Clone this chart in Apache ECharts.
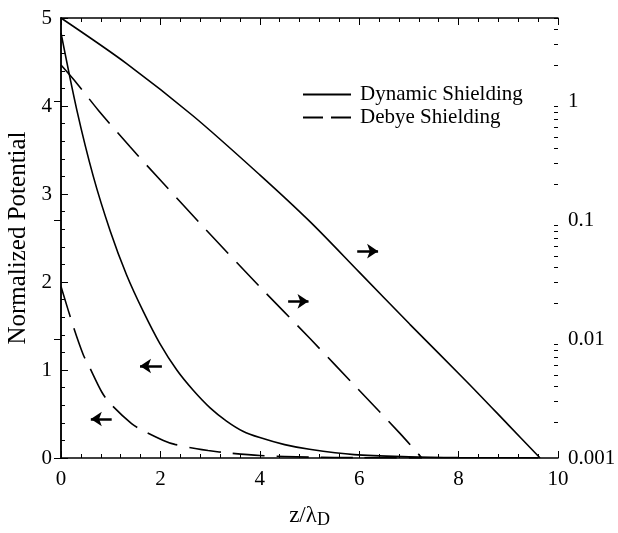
<!DOCTYPE html>
<html>
<head>
<meta charset="utf-8">
<script src="https://cdn.jsdelivr.net/npm/echarts@6/dist/echarts.min.js"></script>
<style>
  html, body { margin: 0; padding: 0; background: #fff; }
  #chart { width: 618px; height: 533px; }
</style>
</head>
<body>
<div id="chart"></div>
<script>
// values (x = z/lambda_D)
// left axis (linear)
var dynLinX = [0, 0.32, 0.65, 0.99, 1.32, 1.66, 1.99, 2.33, 2.66, 3.0, 3.33, 3.66, 4.0, 4.5, 5.0, 5.9, 7.0, 8.0, 9.6];
var dynLinY = [4.83, 3.95, 3.2, 2.58, 2.08, 1.66, 1.30, 1.0, 0.77, 0.57, 0.42, 0.305, 0.232, 0.152, 0.099, 0.038, 0.013, 0.004, 0.001];
var debLinX = [0, 0.25, 0.45, 0.55, 0.82, 0.99, 1.42, 1.62, 2.06, 2.29, 2.73, 2.96, 3.4, 4.0, 5.0, 6.0, 7.26];
var debLinY = [1.95, 1.49, 1.17, 1.06, 0.75, 0.62, 0.39, 0.32, 0.2, 0.155, 0.105, 0.085, 0.055, 0.028, 0.01, 0.004, 0.001];
// right axis (log)
var dynLogX = [0, 1.32, 2.66, 4.0, 5.01, 6.0, 7.02, 8.16, 9.0, 9.64];
var dynLogY = [5.0, 2.07, 0.75, 0.24, 0.097, 0.0365, 0.0133, 0.0044, 0.0019, 0.001];
var debLogX = [0, 0.32, 0.75, 1.39, 2.03, 2.86, 4.0, 5.01, 5.98, 6.82, 7.26];
var debLogY = [2.01, 1.41, 0.84, 0.413, 0.21, 0.088, 0.0275, 0.0101, 0.00378, 0.00161, 0.001];

var rightTicks = [0.001, 0.01, 0.1, 1];
// arrows: [tail x, tip x, y on left axis]
var arrows = [[5.96, 6.38, 2.35], [4.57, 4.98, 1.78], [2.03, 1.59, 1.045], [1.02, 0.60, 0.443]];

var serif = 'Liberation Serif';

function pairs(xs, ys) {
  return xs.map(function (x, i) { return [x, ys[i]]; });
}

// log minor ticks 2..9 per decade
var rightMinor = [];
rightTicks.forEach(function (d) {
  for (var k = 2; k <= 9; k++) {
    if (d * k <= 5) rightMinor.push(+(d * k).toPrecision(3));
  }
});

var myChart = echarts.init(document.getElementById('chart'));

var solid = { color: '#000', width: 1.6 };
var dashed = { color: '#000', width: 1.6, type: [32, 12] };

myChart.setOption({
  animation: false,
  grid: { left: 61, right: 60, top: 18, bottom: 75, outerBoundsMode: 'none' },
  legend: {
    orient: 'vertical',
    left: 297,
    top: 79,
    itemWidth: 48,
    itemHeight: 14,
    itemGap: 2,
    itemStyle: { opacity: 0 },
    data: [
      { name: 'Dynamic Shielding' },
      { name: 'Debye Shielding', lineStyle: { type: [20, 8] } }
    ],
    textStyle: { fontFamily: serif, fontSize: 21, color: '#000', padding: [0, 0, 0, 4] }
  },
  xAxis: [{
    type: 'value', min: 0, max: 10, interval: 2,
    name: 'z/λ{sub|D}', nameLocation: 'middle', nameGap: 44,
    nameTextStyle: {
      fontFamily: serif, fontSize: 23, color: '#000',
      rich: { sub: { fontFamily: serif, fontSize: 18, color: '#000', verticalAlign: 'bottom', padding: [9, 0, 0, 0] } }
    },
    axisLine: { lineStyle: { color: '#000', width: 1.5 } },
    axisTick: { inside: true, length: 7, lineStyle: { color: '#000' } },
    minorTick: { show: true, splitNumber: 5, length: 4, lineStyle: { color: '#000' } },
    axisLabel: { fontFamily: serif, fontSize: 21, color: '#000', margin: 11 },
    splitLine: { show: false }
  }, {
    type: 'value', min: 0, max: 10, interval: 2, position: 'top',
    axisLine: { lineStyle: { color: '#000', width: 1.5 } },
    axisTick: { inside: true, length: 7, lineStyle: { color: '#000' } },
    minorTick: { show: true, splitNumber: 5, length: 4, lineStyle: { color: '#000' } },
    axisLabel: { show: false },
    splitLine: { show: false }
  }],
  yAxis: [{
    type: 'value', min: 0, max: 5, interval: 1,
    name: 'Normalized Potential', nameLocation: 'middle', nameGap: 24,
    nameTextStyle: { fontFamily: serif, fontSize: 25, color: '#000' },
    axisLine: { lineStyle: { color: '#000', width: 1.5 } },
    axisTick: { inside: true, length: 7, lineStyle: { color: '#000' } },
    minorTick: { show: true, splitNumber: 5, length: 4, lineStyle: { color: '#000' } },
    axisLabel: { fontFamily: serif, fontSize: 21, color: '#000', margin: 9 },
    splitLine: { show: false }
  }, {
    type: 'log', logBase: 10, min: 0.001, max: 5, position: 'right',
    axisLine: { show: true, lineStyle: { color: '#000', width: 1.5 } },
    axisTick: { inside: true, length: 7, customValues: rightTicks, lineStyle: { color: '#000' } },
    axisLabel: {
      fontFamily: serif, fontSize: 21, color: '#000', margin: 10,
      customValues: rightTicks,
      formatter: function (v) { return String(+v.toPrecision(3)); }
    },
    splitLine: { show: false }
  }, {
    type: 'log', logBase: 10, min: 0.001, max: 5, position: 'right',
    axisLine: { show: false },
    axisTick: { inside: true, length: 4, customValues: rightMinor, lineStyle: { color: '#000' } },
    axisLabel: { show: false },
    splitLine: { show: false }
  }],
  series: [{
    name: 'Dynamic Shielding', type: 'line', xAxisIndex: 0, yAxisIndex: 1,
    data: pairs(dynLogX, dynLogY), symbol: 'none', smooth: 0.3,
    itemStyle: { color: '#000' }, lineStyle: solid
  }, {
    name: 'Debye Shielding', type: 'line', xAxisIndex: 0, yAxisIndex: 1,
    data: pairs(debLogX, debLogY), symbol: 'none', smooth: 0.3,
    itemStyle: { color: '#000' }, lineStyle: dashed
  }, {
    name: 'Dynamic Shielding', type: 'line', xAxisIndex: 0, yAxisIndex: 0,
    data: pairs(dynLinX, dynLinY), symbol: 'none', smooth: 0.3,
    itemStyle: { color: '#000' }, lineStyle: solid,
    markLine: {
      silent: true,
      symbol: ['none', 'arrow'],
      symbolSize: 11,
      label: { show: false },
      itemStyle: { color: '#000' },
      lineStyle: { color: '#000', width: 2.5, type: 'solid' },
      data: arrows.map(function (a) {
        return [{ coord: [a[0], a[2]] }, { coord: [a[1], a[2]] }];
      })
    }
  }, {
    name: 'Debye Shielding', type: 'line', xAxisIndex: 0, yAxisIndex: 0,
    data: pairs(debLinX, debLinY), symbol: 'none', smooth: 0.3,
    itemStyle: { color: '#000' }, lineStyle: dashed
  }]
});
</script>
</body>
</html>
